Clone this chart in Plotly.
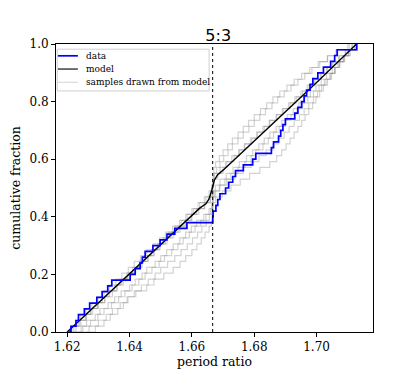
import numpy as np
import plotly.graph_objects as go

# observed period ratios near the 5:3 resonance (sorted)
data_ratio = [
    1.6199, 1.6212, 1.6228, 1.6236, 1.6255, 1.6272, 1.6295, 1.6312, 1.6330, 1.6343, 1.6402,
    1.6418, 1.6434, 1.6441, 1.6450, 1.6475, 1.6498, 1.6520, 1.6545, 1.6584, 1.6667,
    1.6668, 1.6677, 1.6683, 1.6690, 1.6708, 1.6718, 1.6731, 1.6740, 1.6765, 1.6795,
    1.6805, 1.6855, 1.6862, 1.6878, 1.6885, 1.6892, 1.6900, 1.6930, 1.6940, 1.6952,
    1.6960, 1.6968, 1.6979, 1.6988, 1.7004, 1.7022, 1.7045, 1.7058, 1.7066, 1.7129,
]

# model cumulative distribution
model_ratio = [1.6200, 1.6400, 1.6600, 1.6626, 1.6645, 1.6655, 1.6664, 1.6672,
               1.6682, 1.6700, 1.6800, 1.6900, 1.7000, 1.7128]
model_cdf = [0.000, 0.202, 0.404, 0.431, 0.445, 0.462, 0.493, 0.527,
             0.545, 0.562, 0.663, 0.764, 0.866, 1.000]

# samples drawn from the model
sample_1 = [1.6262, 1.6290, 1.6318, 1.6338, 1.6362, 1.6380, 1.6392, 1.6420, 1.6455, 1.6478,
            1.6510, 1.6540, 1.6562, 1.6580, 1.6600, 1.6616, 1.6630, 1.6642, 1.6655, 1.6663,
            1.6665, 1.6667, 1.6668, 1.6676, 1.6698, 1.6725, 1.6755, 1.6785, 1.6818, 1.6850,
            1.6872, 1.6888, 1.6902, 1.6915, 1.6928, 1.6940, 1.6952, 1.6963, 1.6975, 1.6987,
            1.6998, 1.7010, 1.7022, 1.7035, 1.7048, 1.7060, 1.7073, 1.7087, 1.7102, 1.7126]
sample_2 = [1.6203, 1.6221, 1.6244, 1.6262, 1.6276, 1.6300, 1.6321, 1.6345, 1.6359, 1.6375,
            1.6401, 1.6420, 1.6436, 1.6458, 1.6480, 1.6495, 1.6520, 1.6533, 1.6556, 1.6580,
            1.6598, 1.6615, 1.6640, 1.6660, 1.6666, 1.6667, 1.6669, 1.6671, 1.6679, 1.6690,
            1.6702, 1.6716, 1.6730, 1.6748, 1.6765, 1.6783, 1.6800, 1.6818, 1.6836, 1.6857,
            1.6875, 1.6896, 1.6918, 1.6940, 1.6962, 1.6985, 1.7010, 1.7035, 1.7062, 1.7105]
sample_3 = [1.6218, 1.6245, 1.6262, 1.6290, 1.6305, 1.6331, 1.6352, 1.6373, 1.6400, 1.6418,
            1.6440, 1.6455, 1.6482, 1.6500, 1.6519, 1.6540, 1.6561, 1.6580, 1.6598, 1.6615,
            1.6638, 1.6655, 1.6664, 1.6668, 1.6676, 1.6690, 1.6706, 1.6725, 1.6748, 1.6770,
            1.6790, 1.6805, 1.6828, 1.6845, 1.6862, 1.6880, 1.6900, 1.6918, 1.6937, 1.6955,
            1.6972, 1.6990, 1.7008, 1.7025, 1.7042, 1.7058, 1.7075, 1.7090, 1.7108, 1.7127]
sample_4 = [1.6200, 1.6215, 1.6236, 1.6260, 1.6282, 1.6298, 1.6320, 1.6336, 1.6360, 1.6380,
            1.6395, 1.6418, 1.6440, 1.6460, 1.6476, 1.6498, 1.6515, 1.6540, 1.6562, 1.6578,
            1.6600, 1.6622, 1.6641, 1.6658, 1.6665, 1.6667, 1.6670, 1.6683, 1.6700, 1.6712,
            1.6735, 1.6752, 1.6770, 1.6792, 1.6810, 1.6832, 1.6850, 1.6872, 1.6893, 1.6915,
            1.6935, 1.6955, 1.6976, 1.6995, 1.7015, 1.7035, 1.7052, 1.7072, 1.7092, 1.7113]
sample_5 = [1.6225, 1.6250, 1.6275, 1.6298, 1.6318, 1.6342, 1.6365, 1.6385, 1.6408, 1.6430,
            1.6450, 1.6472, 1.6495, 1.6512, 1.6535, 1.6555, 1.6572, 1.6592, 1.6610, 1.6628,
            1.6645, 1.6660, 1.6666, 1.6667, 1.6672, 1.6688, 1.6712, 1.6738, 1.6765, 1.6790,
            1.6815, 1.6838, 1.6860, 1.6878, 1.6896, 1.6912, 1.6928, 1.6945, 1.6960, 1.6975,
            1.6990, 1.7003, 1.7016, 1.7030, 1.7045, 1.7058, 1.7072, 1.7088, 1.7104, 1.7123]
sample_6 = [1.6207, 1.6228, 1.6240, 1.6258, 1.6275, 1.6296, 1.6312, 1.6330, 1.6352, 1.6370,
            1.6392, 1.6410, 1.6431, 1.6450, 1.6470, 1.6490, 1.6508, 1.6525, 1.6545, 1.6565,
            1.6585, 1.6605, 1.6625, 1.6645, 1.6660, 1.6665, 1.6667, 1.6668, 1.6670, 1.6676,
            1.6688, 1.6700, 1.6715, 1.6730, 1.6748, 1.6765, 1.6782, 1.6800, 1.6820, 1.6840,
            1.6860, 1.6882, 1.6905, 1.6928, 1.6952, 1.6978, 1.7005, 1.7035, 1.7068, 1.7100]
sample_7 = [1.6238, 1.6270, 1.6300, 1.6325, 1.6345, 1.6370, 1.6395, 1.6415, 1.6438, 1.6460,
            1.6482, 1.6500, 1.6522, 1.6545, 1.6565, 1.6585, 1.6602, 1.6618, 1.6632, 1.6646,
            1.6656, 1.6664, 1.6666, 1.6667, 1.6669, 1.6675, 1.6690, 1.6710, 1.6732, 1.6752,
            1.6775, 1.6795, 1.6815, 1.6832, 1.6850, 1.6870, 1.6888, 1.6906, 1.6925, 1.6943,
            1.6962, 1.6980, 1.6998, 1.7015, 1.7032, 1.7050, 1.7068, 1.7085, 1.7103, 1.7122]
sample_8 = [1.6204, 1.6212, 1.6228, 1.6242, 1.6260, 1.6279, 1.6298, 1.6318, 1.6335, 1.6356,
            1.6375, 1.6396, 1.6415, 1.6435, 1.6455, 1.6475, 1.6496, 1.6515, 1.6538, 1.6560,
            1.6580, 1.6600, 1.6620, 1.6640, 1.6655, 1.6664, 1.6667, 1.6672, 1.6690, 1.6708,
            1.6728, 1.6750, 1.6768, 1.6788, 1.6808, 1.6828, 1.6848, 1.6870, 1.6890, 1.6910,
            1.6930, 1.6950, 1.6970, 1.6992, 1.7012, 1.7032, 1.7052, 1.7072, 1.7093, 1.7115]
samples = [sample_1, sample_2, sample_3, sample_4, sample_5, sample_6, sample_7, sample_8]

x_ticks = [1.62, 1.64, 1.66, 1.68, 1.70]
y_ticks = [0.0, 0.2, 0.4, 0.6, 0.8, 1.0]

SERIF = "DejaVu Serif"
BLUE = "#0000ff"
SAMPLE_GREY = "rgba(128,128,128,0.35)"

fig = go.Figure()

for s in samples:
    fig.add_trace(go.Scatter(
        x=s, y=np.linspace(0, 1, len(s)),
        mode="lines", line_shape="hv",
        line=dict(color=SAMPLE_GREY, width=1.2),
        showlegend=False,
    ))

fig.add_trace(go.Scatter(
    x=model_ratio, y=model_cdf, mode="lines",
    line=dict(color="black", width=1.4), showlegend=False,
))

fig.add_trace(go.Scatter(
    x=data_ratio, y=np.linspace(0, 1, len(data_ratio)),
    mode="lines", line_shape="hv",
    line=dict(color=BLUE, width=1.7), showlegend=False,
))

fig.add_vline(x=5 / 3, line=dict(color="black", width=1, dash="dot"))

# matplotlib-like compact legend, drawn in paper coordinates
fig.add_shape(type="rect", xref="paper", yref="paper",
              x0=0.004, x1=0.483, y0=0.837, y1=0.982,
              line=dict(color="#d0d0d0", width=1), fillcolor="rgba(255,255,255,0.85)")
legend_entries = [("data", BLUE, 1.7), ("model", "#333333", 1.4),
                  ("samples drawn from model", "rgba(128,128,128,0.3)", 1.2)]
for row, (label, color, width) in enumerate(legend_entries):
    yy = 0.959 - row * 0.046
    fig.add_shape(type="line", xref="paper", yref="paper",
                  x0=0.006, x1=0.069, y0=yy, y1=yy,
                  line=dict(color=color, width=width))
    fig.add_annotation(xref="paper", yref="paper", x=0.088, y=yy,
                       xanchor="left", yanchor="middle", showarrow=False,
                       text=label, font=dict(family=SERIF, size=9, color="black"))

axis_common = dict(
    showline=True, linecolor="black", linewidth=1, mirror=True,
    ticks="outside", ticklen=4, tickcolor="black",
    showgrid=False, zeroline=False, automargin=False,
    tickfont=dict(family=SERIF, size=12, color="black"),
)

# the page body adds an 8px offset, so the figure is 8px smaller each way
fig.update_layout(
    width=407, height=366,
    margin=dict(l=48, r=42, t=36, b=42),
    paper_bgcolor="white", plot_bgcolor="white",
    title=dict(text="5:3", x=0.5165, xanchor="center", y=0.926, yanchor="middle",
               font=dict(family="DejaVu Sans", size=16, color="black")),
    xaxis=dict(range=[1.6164, 1.7181], tickvals=x_ticks, tickformat=".2f",
               title=dict(text="period ratio", font=dict(family=SERIF, size=12.5, color="black"),
                          standoff=0),
               **axis_common),
    yaxis=dict(range=[0, 1], tickvals=y_ticks, tickformat=".1f",
               title=dict(text="cumulative fraction", font=dict(family=SERIF, size=12.5, color="black"),
                          standoff=8),
               **axis_common),
    showlegend=False,
)

fig.write_html("out.html")
